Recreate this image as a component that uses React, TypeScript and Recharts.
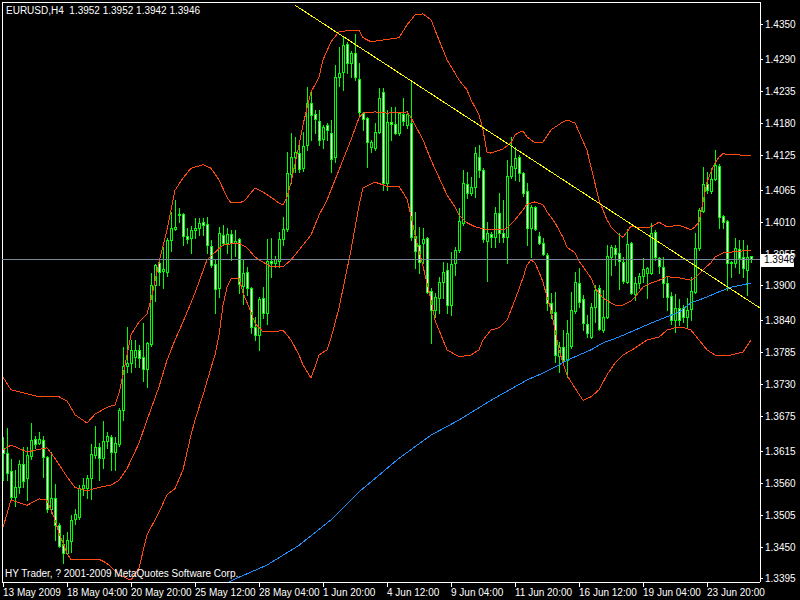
import React from "react";
import { ComposedChart, Bar, Line, XAxis, YAxis, ReferenceLine } from "recharts";

// EURUSD H4, one entry per bar (bar 0 = 13 May 2009 12:00)
const opens = [
  1.3621, 1.3612, 1.3581, 1.3536, 1.3553, 1.3593, 1.3569, 1.3607, 1.3636, 1.3629,
  1.3634, 1.3605, 1.3516, 1.3534, 1.3488, 1.3455, 1.3440, 1.3460, 1.3498, 1.3502,
  1.3552, 1.3552, 1.3569, 1.3609, 1.3622, 1.3603, 1.3633, 1.3640, 1.3614, 1.3628,
  1.3686, 1.3762, 1.3767, 1.3778, 1.3790, 1.3778, 1.3757, 1.3800, 1.3902, 1.3940,
  1.3926, 1.3924, 1.3979, 1.3998, 1.4022, 1.4024, 1.3986, 1.3983, 1.3997, 1.4000,
  1.4010, 1.4007, 1.3969, 1.3938, 1.3897, 1.3988, 1.3974, 1.3990, 1.3974, 1.3981,
  1.3900, 1.3924, 1.3897, 1.3829, 1.3815, 1.3879, 1.3853, 1.3943, 1.3940, 1.3943,
  1.3981, 1.3998, 1.4093, 1.4122, 1.4129, 1.4103, 1.4143, 1.4215, 1.4196, 1.4184,
  1.4153, 1.4177, 1.4164, 1.4122, 1.4260, 1.4269, 1.4317, 1.4284, 1.4302, 1.4257,
  1.4198, 1.4190, 1.4140, 1.4138, 1.4165, 1.4234, 1.4078, 1.4183, 1.4179, 1.4164,
  1.4196, 1.4177, 1.4181, 1.3986, 1.3971, 1.3974, 1.3983, 1.3891, 1.3859, 1.3879,
  1.3907, 1.3928, 1.3867, 1.3940, 1.3962, 1.4009, 1.4076, 1.4060, 1.4071, 1.4122,
  1.4100, 1.3978, 1.3990, 1.3984, 1.4026, 1.3991, 1.3984, 1.4090, 1.4103, 1.4122,
  1.4095, 1.4064, 1.4000, 1.4036, 1.3986, 1.3974, 1.3953, 1.3871, 1.3855, 1.3779,
  1.3795, 1.3772, 1.3797, 1.3857, 1.3905, 1.3877, 1.3834, 1.3812, 1.3864, 1.3897,
  1.3824, 1.3847, 1.3950, 1.3966, 1.3957, 1.3941, 1.3907, 1.3974, 1.3886, 1.3905,
  1.3917, 1.3922, 1.3922, 1.3993, 1.3948, 1.3933, 1.3905, 1.3883, 1.3841, 1.3862,
  1.3862, 1.3847, 1.3860, 1.3890, 1.3966, 1.4029, 1.4076, 1.4064, 1.4084, 1.4107,
  1.4021, 1.4012, 1.3941, 1.3940, 1.3964, 1.3950, 1.3928, 1.3952,
];
const highs = [
  1.3640, 1.3655, 1.3602, 1.3583, 1.3600, 1.3622, 1.3622, 1.3664, 1.3641, 1.3648,
  1.3641, 1.3607, 1.3614, 1.3559, 1.3491, 1.3471, 1.3476, 1.3505, 1.3516, 1.3557,
  1.3569, 1.3574, 1.3628, 1.3659, 1.3629, 1.3667, 1.3648, 1.3644, 1.3640, 1.3690,
  1.3795, 1.3829, 1.3807, 1.3807, 1.3798, 1.3836, 1.3803, 1.3922, 1.3938, 1.3948,
  1.3967, 1.3983, 1.4028, 1.4048, 1.4034, 1.4026, 1.4000, 1.4003, 1.4017, 1.4017,
  1.4017, 1.4019, 1.3979, 1.3945, 1.4002, 1.4005, 1.4000, 1.3997, 1.3997, 1.3983,
  1.3945, 1.3933, 1.3898, 1.3846, 1.3881, 1.3898, 1.3981, 1.3983, 1.3952, 1.3993,
  1.4019, 1.4131, 1.4164, 1.4157, 1.4147, 1.4165, 1.4243, 1.4234, 1.4203, 1.4203,
  1.4177, 1.4181, 1.4186, 1.4281, 1.4312, 1.4329, 1.4321, 1.4305, 1.4334, 1.4284,
  1.4200, 1.4191, 1.4152, 1.4181, 1.4241, 1.4241, 1.4203, 1.4209, 1.4209, 1.4200,
  1.4224, 1.4202, 1.4252, 1.4028, 1.4002, 1.4000, 1.3984, 1.3897, 1.3888, 1.3915,
  1.3941, 1.3940, 1.3959, 1.3967, 1.4034, 1.4100, 1.4097, 1.4088, 1.4140, 1.4143,
  1.4103, 1.4010, 1.3993, 1.4036, 1.4060, 1.4048, 1.4117, 1.4157, 1.4140, 1.4126,
  1.4097, 1.4078, 1.4040, 1.4038, 1.3993, 1.3983, 1.3957, 1.3888, 1.3890, 1.3803,
  1.3824, 1.3841, 1.3890, 1.3924, 1.3931, 1.3884, 1.3850, 1.3871, 1.3902, 1.3902,
  1.3893, 1.3971, 1.3971, 1.3971, 1.3991, 1.3950, 1.3998, 1.3976, 1.3915, 1.3922,
  1.3948, 1.3933, 1.4009, 1.3997, 1.3950, 1.3950, 1.3917, 1.3890, 1.3886, 1.3877,
  1.3867, 1.3879, 1.3915, 1.3991, 1.4034, 1.4105, 1.4097, 1.4103, 1.4134, 1.4110,
  1.4022, 1.4014, 1.3943, 1.3983, 1.3979, 1.3979, 1.3971, 1.3952,
];
const lows = [
  1.3566, 1.3566, 1.3531, 1.3521, 1.3543, 1.3553, 1.3531, 1.3602, 1.3621, 1.3628,
  1.3571, 1.3510, 1.3509, 1.3462, 1.3450, 1.3422, 1.3438, 1.3441, 1.3491, 1.3498,
  1.3540, 1.3534, 1.3533, 1.3603, 1.3566, 1.3586, 1.3621, 1.3583, 1.3583, 1.3625,
  1.3669, 1.3752, 1.3752, 1.3760, 1.3760, 1.3736, 1.3726, 1.3797, 1.3874, 1.3902,
  1.3897, 1.3917, 1.3960, 1.3997, 1.4010, 1.3971, 1.3974, 1.3957, 1.3983, 1.3988,
  1.3988, 1.3957, 1.3933, 1.3853, 1.3881, 1.3971, 1.3957, 1.3945, 1.3953, 1.3888,
  1.3869, 1.3884, 1.3819, 1.3807, 1.3790, 1.3845, 1.3834, 1.3915, 1.3933, 1.3933,
  1.3971, 1.3995, 1.4078, 1.4097, 1.4097, 1.4097, 1.4134, 1.4152, 1.4164, 1.4143,
  1.4138, 1.4152, 1.4097, 1.4114, 1.4245, 1.4238, 1.4267, 1.4260, 1.4255, 1.4195,
  1.4169, 1.4105, 1.4131, 1.4134, 1.4164, 1.4065, 1.4065, 1.4152, 1.4162, 1.4160,
  1.4177, 1.4172, 1.3979, 1.3931, 1.3922, 1.3940, 1.3888, 1.3803, 1.3846, 1.3853,
  1.3879, 1.3853, 1.3850, 1.3919, 1.3959, 1.4005, 1.4053, 1.4057, 1.4053, 1.4088,
  1.3976, 1.3909, 1.3967, 1.3967, 1.3976, 1.3976, 1.3940, 1.4086, 1.4083, 1.4081,
  1.4055, 1.3971, 1.3950, 1.3997, 1.3972, 1.3953, 1.3859, 1.3845, 1.3769, 1.3752,
  1.3767, 1.3743, 1.3793, 1.3853, 1.3864, 1.3824, 1.3812, 1.3810, 1.3838, 1.3824,
  1.3821, 1.3845, 1.3919, 1.3936, 1.3895, 1.3905, 1.3905, 1.3886, 1.3876, 1.3897,
  1.3907, 1.3879, 1.3921, 1.3945, 1.3922, 1.3881, 1.3859, 1.3834, 1.3821, 1.3833,
  1.3838, 1.3828, 1.3841, 1.3888, 1.3962, 1.4028, 1.4060, 1.4060, 1.4083, 1.4000,
  1.4000, 1.3893, 1.3915, 1.3933, 1.3922, 1.3915, 1.3884, 1.3942,
];
const closes = [
  1.3612, 1.3578, 1.3536, 1.3553, 1.3593, 1.3564, 1.3609, 1.3634, 1.3628, 1.3636,
  1.3605, 1.3516, 1.3534, 1.3488, 1.3452, 1.3440, 1.3462, 1.3497, 1.3507, 1.3552,
  1.3557, 1.3569, 1.3610, 1.3622, 1.3603, 1.3633, 1.3641, 1.3614, 1.3629, 1.3686,
  1.3762, 1.3767, 1.3790, 1.3790, 1.3776, 1.3757, 1.3802, 1.3902, 1.3936, 1.3924,
  1.3929, 1.3979, 1.4000, 1.4002, 1.4024, 1.3986, 1.3981, 1.3997, 1.4000, 1.4009,
  1.4005, 1.3971, 1.3936, 1.3895, 1.3991, 1.3974, 1.3990, 1.3974, 1.3978, 1.3903,
  1.3922, 1.3897, 1.3829, 1.3815, 1.3877, 1.3853, 1.3943, 1.3940, 1.3946, 1.3981,
  1.3998, 1.4095, 1.4122, 1.4131, 1.4102, 1.4141, 1.4215, 1.4195, 1.4188, 1.4152,
  1.4174, 1.4169, 1.4119, 1.4260, 1.4267, 1.4315, 1.4284, 1.4302, 1.4260, 1.4200,
  1.4188, 1.4148, 1.4148, 1.4165, 1.4224, 1.4078, 1.4183, 1.4179, 1.4164, 1.4198,
  1.4184, 1.4196, 1.3984, 1.3960, 1.3941, 1.3981, 1.3890, 1.3859, 1.3881, 1.3907,
  1.3924, 1.3867, 1.3938, 1.3962, 1.4012, 1.4078, 1.4060, 1.4071, 1.4129, 1.4100,
  1.3981, 1.3991, 1.3984, 1.4026, 1.3991, 1.3984, 1.4090, 1.4107, 1.4121, 1.4095,
  1.4060, 1.4000, 1.4036, 1.3998, 1.3974, 1.3955, 1.3871, 1.3853, 1.3781, 1.3795,
  1.3772, 1.3819, 1.3859, 1.3907, 1.3872, 1.3836, 1.3819, 1.3864, 1.3893, 1.3826,
  1.3847, 1.3952, 1.3967, 1.3955, 1.3943, 1.3909, 1.3972, 1.3888, 1.3905, 1.3917,
  1.3929, 1.3931, 1.3991, 1.3950, 1.3934, 1.3905, 1.3881, 1.3841, 1.3862, 1.3841,
  1.3847, 1.3859, 1.3891, 1.3966, 1.4031, 1.4076, 1.4065, 1.4084, 1.4109, 1.4019,
  1.4010, 1.3940, 1.3940, 1.3966, 1.3948, 1.3931, 1.3950, 1.3946,
];

// indicator lines: [bar, price]
const upperBand: [number, number][] = [
  [0, 1.3743], [2, 1.3721], [9, 1.3709], [14, 1.3709], [16, 1.3702], [18, 1.3678], [21, 1.3664],
  [23, 1.3679], [26, 1.3691], [28, 1.3695], [29, 1.3715], [30, 1.3747], [32, 1.3816], [34, 1.3838],
  [36, 1.3852], [37, 1.3876], [39, 1.3941], [41, 1.3997], [43, 1.4065], [45, 1.4086], [47, 1.4103],
  [50, 1.4109], [52, 1.4103], [54, 1.4083], [56, 1.4053], [57, 1.4043], [60, 1.4045], [61, 1.4052],
  [63, 1.4069], [65, 1.4062], [67, 1.4053], [69, 1.4043], [70, 1.4040], [71, 1.4053], [72, 1.4078],
  [74, 1.4143], [75, 1.4178], [77, 1.4234], [79, 1.4260], [80, 1.4290], [82, 1.4321], [84, 1.4338],
  [87, 1.4341], [89, 1.4341], [90, 1.4328], [92, 1.4321], [95, 1.4324], [99, 1.4328], [101, 1.4350],
  [103, 1.4367], [105, 1.4369], [107, 1.4359], [109, 1.4324], [111, 1.4290], [114, 1.4255],
  [116, 1.4238], [117, 1.4221], [119, 1.4195], [120, 1.4169], [121, 1.4131], [122, 1.4129],
  [125, 1.4136], [127, 1.4147], [128, 1.4160], [129, 1.4165], [130, 1.4167], [131, 1.4157],
  [133, 1.4147], [135, 1.4148], [137, 1.4169], [140, 1.4183], [141, 1.4186], [143, 1.4181],
  [146, 1.4134], [149, 1.4048], [151, 1.4014], [152, 1.4002], [154, 1.3988], [155, 1.3984],
  [156, 1.3993], [157, 1.4003], [160, 1.4000], [162, 1.4002], [164, 1.4010], [166, 1.4002],
  [169, 1.4005], [172, 1.3997], [173, 1.4002], [174, 1.4010], [175, 1.4045], [176, 1.4079],
  [177, 1.4097], [178, 1.4112], [179, 1.4122], [180, 1.4128], [182, 1.4126], [184, 1.4126], [187, 1.4124],
];
const midBand: [number, number][] = [
  [0, 1.3617], [2, 1.3626], [6, 1.3614], [11, 1.3621], [13, 1.3603], [16, 1.3571], [18, 1.3553],
  [21, 1.3547], [24, 1.3553], [27, 1.3557], [29, 1.3565], [31, 1.3585], [34, 1.3629], [36, 1.3669],
  [39, 1.3726], [41, 1.3772], [43, 1.3807], [45, 1.3838], [47, 1.3871], [48, 1.3888], [51, 1.3945],
  [55, 1.3971], [59, 1.3974], [61, 1.3966], [63, 1.3950], [65, 1.3941], [67, 1.3933], [70, 1.3933],
  [72, 1.3945], [74, 1.3962], [77, 1.3988], [79, 1.4022], [81, 1.4048], [84, 1.4100], [87, 1.4152],
  [89, 1.4190], [90, 1.4198], [93, 1.4200], [96, 1.4198], [101, 1.4200], [102, 1.4190], [105, 1.4152],
  [107, 1.4117], [111, 1.4057], [113, 1.4036], [114, 1.4022], [116, 1.4009], [118, 1.4002],
  [121, 1.3997], [125, 1.3997], [126, 1.4000], [128, 1.4014], [130, 1.4031], [131, 1.4041],
  [133, 1.4045], [135, 1.4040], [136, 1.4028], [138, 1.4009], [140, 1.3984], [141, 1.3967],
  [143, 1.3957], [144, 1.3943], [147, 1.3914], [148, 1.3897], [150, 1.3879], [152, 1.3871],
  [153, 1.3867], [155, 1.3867], [157, 1.3874], [158, 1.3881], [160, 1.3898], [162, 1.3905],
  [164, 1.3910], [166, 1.3916], [169, 1.3914], [172, 1.3910], [173, 1.3914], [175, 1.3928],
  [177, 1.3940], [178, 1.3950], [180, 1.3957], [183, 1.3959], [187, 1.3962],
];
const lowBand: [number, number][] = [
  [0, 1.3484], [2, 1.3531], [6, 1.3522], [9, 1.3533], [11, 1.3531], [12, 1.3514], [13, 1.3497],
  [14, 1.3474], [16, 1.3440], [17, 1.3428], [20, 1.3429], [24, 1.3429], [26, 1.3422], [29, 1.3402],
  [32, 1.3393], [34, 1.3414], [36, 1.3471], [39, 1.3510], [41, 1.3540], [43, 1.3551], [45, 1.3583],
  [47, 1.3643], [48, 1.3669], [50, 1.3712], [52, 1.3759], [53, 1.3781], [54, 1.3815], [55, 1.3867],
  [56, 1.3898], [57, 1.3912], [59, 1.3914], [60, 1.3888], [62, 1.3855], [63, 1.3836], [65, 1.3821],
  [68, 1.3821], [70, 1.3824], [72, 1.3807], [74, 1.3781], [75, 1.3764], [77, 1.3741], [79, 1.3781],
  [81, 1.3790], [82, 1.3810], [84, 1.3862], [87, 1.3962], [89, 1.4038], [90, 1.4069], [93, 1.4079],
  [96, 1.4072], [99, 1.4072], [101, 1.4050], [102, 1.4021], [103, 1.3988], [105, 1.3934],
  [107, 1.3876], [108, 1.3841], [110, 1.3807], [111, 1.3790], [114, 1.3778], [117, 1.3781],
  [119, 1.3790], [120, 1.3807], [122, 1.3824], [124, 1.3828], [126, 1.3841], [128, 1.3876],
  [130, 1.3914], [131, 1.3936], [132, 1.3945], [133, 1.3940], [134, 1.3924], [135, 1.3907],
  [136, 1.3881], [137, 1.3859], [138, 1.3824], [139, 1.3790], [140, 1.3767], [141, 1.3746],
  [143, 1.3724], [145, 1.3703], [147, 1.3709], [149, 1.3721], [151, 1.3747], [153, 1.3767],
  [155, 1.3781], [158, 1.3793], [161, 1.3807], [164, 1.3812], [166, 1.3824], [168, 1.3828],
  [170, 1.3829], [172, 1.3824], [174, 1.3807], [176, 1.3790], [178, 1.3781], [182, 1.3781],
  [185, 1.3786], [187, 1.3807],
];
const slowMa: [number, number][] = [
  [52, 1.3372], [58, 1.3395], [66, 1.3419], [74, 1.3453], [82, 1.3497], [89, 1.3545], [99, 1.3603],
  [107, 1.3643], [114, 1.3669], [122, 1.3703], [131, 1.3738], [135, 1.3750], [138, 1.3760],
  [141, 1.3772], [147, 1.3790], [150, 1.3802], [154, 1.3812], [158, 1.3824], [162, 1.3836],
  [166, 1.3847], [169, 1.3855], [172, 1.3871], [176, 1.3881], [179, 1.3890], [182, 1.3898], [187, 1.3905],
];

// hand-drawn trend line: [bar, price] at both ends
const trendStart: [number, number] = [73, 1.4384];
const trendEnd: [number, number] = [189.25, 1.3862];

const lastPrice = 1.3946;
const quote = "EURUSD,H4  1.3952 1.3952 1.3942 1.3946";
const footer = "HY Trader, ? 2001-2009 MetaQuotes Software Corp.";

const timeTicks = [0, 16, 32, 48, 64, 80, 96, 112, 128, 144, 160, 176];
const timeLabels = [
  "13 May 2009", "18 May 04:00", "20 May 20:00", "25 May 12:00", "28 May 04:00", "1 Jun 20:00",
  "4 Jun 12:00", "9 Jun 04:00", "11 Jun 20:00", "16 Jun 12:00", "19 Jun 04:00", "23 Jun 20:00",
];
const priceTicks = [
  1.3395, 1.345, 1.3505, 1.356, 1.3615, 1.3675, 1.373, 1.3785, 1.384, 1.39, 1.3955, 1.401, 1.4065,
  1.4125, 1.418, 1.4235, 1.429, 1.435,
];

const W = 800;
const H = 600;
const X_MIN = -0.25;
const X_MAX = 189.25;
const Y_MIN = 1.33898;
const Y_MAX = 1.43895;
const FONT = "'Liberation Sans', Arial, sans-serif";
const LIME = "#00ff00";
const BAND = "#ff4a12";

const rows: any[] = opens.map((open, i) => ({
  i,
  open,
  high: highs[i],
  low: lows[i],
  close: closes[i],
  range: [lows[i], highs[i]],
}));
const attach = (key: string, pts: [number, number][]) =>
  pts.forEach(([i, v]) => {
    rows[i][key] = v;
  });
attach("upper", upperBand);
attach("mid", midBand);
attach("lower", lowBand);
attach("ma", slowMa);

const Candle = (props: any) => {
  const { x, y, width, height, payload } = props;
  if (!payload) return null;
  const { open, close, high, low } = payload;
  const cx = Math.round(x + width / 2);
  const span = high - low || 1e-9;
  const py = (p: number) => Math.round(y + ((high - p) / span) * height);
  const top = py(Math.max(open, close));
  const bot = py(Math.min(open, close));
  const bull = close >= open;
  return (
    <g>
      <rect x={cx} y={Math.round(y)} width={1} height={Math.round(height) + 1} fill={LIME} />
      <rect x={cx - 1} y={top} width={3} height={bot - top + 1} fill={LIME} />
      {bot - top >= 2 && (
        <rect x={cx} y={top + 1} width={1} height={bot - top - 1} fill={bull ? "#000" : "#fff"} />
      )}
    </g>
  );
};

const TimeTick = ({ x, y, payload }: any) => (
  <text x={x} y={y + 7} fill="#fff" fontSize={10} fontFamily={FONT} textAnchor="start">
    {timeLabels[timeTicks.indexOf(payload.value)]}
  </text>
);

// the last tick is the current price: drawn last, as a white tag over the scale
const PriceTick = ({ x, y, payload }: any) => {
  const v = Number(payload.value);
  if (v === lastPrice) {
    return (
      <g>
        <rect x={x - 4} y={y - 5} width={33} height={13} fill="#fff" />
        <text x={x - 1} y={y + 4} fill="#000" fontSize={10} fontFamily={FONT}>
          {v.toFixed(4)}
        </text>
      </g>
    );
  }
  return (
    <text x={x} y={y + 3.5} fill="#fff" fontSize={10} fontFamily={FONT} textAnchor="start">
      {v.toFixed(4)}
    </text>
  );
};

export default function App() {
  return (
    <div
      className="mt"
      style={{ position: "absolute", left: 0, top: 0, width: W, height: H, background: "#000", overflow: "hidden" }}
    >
      <style>{`.mt svg path, .mt svg line, .mt svg rect { shape-rendering: crispEdges; }`}</style>
      <ComposedChart width={W} height={H} data={rows} margin={{ top: 2, right: 0, bottom: 0, left: 2 }}>
        <XAxis
          type="number"
          dataKey="i"
          domain={[X_MIN, X_MAX]}
          allowDataOverflow
          ticks={timeTicks}
          interval={0}
          height={18}
          stroke="#fff"
          tickSize={5}
          tick={<TimeTick />}
        />
        <YAxis
          orientation="right"
          type="number"
          domain={[Y_MIN, Y_MAX]}
          allowDataOverflow
          ticks={[...priceTicks, lastPrice]}
          interval={0}
          width={40}
          stroke="#fff"
          tickSize={3}
          tick={<PriceTick />}
        />
        <ReferenceLine x={X_MIN} stroke="#fff" />
        <ReferenceLine y={Y_MAX} stroke="#fff" />
        <Line dataKey="upper" stroke={BAND} strokeWidth={1} dot={false} activeDot={false} connectNulls isAnimationActive={false} />
        <Line dataKey="mid" stroke={BAND} strokeWidth={1} dot={false} activeDot={false} connectNulls isAnimationActive={false} />
        <Line dataKey="lower" stroke={BAND} strokeWidth={1} dot={false} activeDot={false} connectNulls isAnimationActive={false} />
        <Line dataKey="ma" stroke="#1e90ff" strokeWidth={1} dot={false} activeDot={false} connectNulls isAnimationActive={false} />
        <ReferenceLine y={lastPrice} stroke="#778899" />
        <Bar dataKey="range" barSize={4} shape={<Candle />} isAnimationActive={false} />
        <ReferenceLine
          segment={[
            { x: trendStart[0], y: trendStart[1] },
            { x: trendEnd[0], y: trendEnd[1] },
          ]}
          stroke="#ffff00"
        />
      </ComposedChart>
      <div
        style={{
          position: "absolute",
          left: 6,
          top: 6,
          color: "#fff",
          fontFamily: FONT,
          fontSize: 10,
          lineHeight: "10px",
          whiteSpace: "pre",
        }}
      >
        {quote}
      </div>
      <div
        style={{
          position: "absolute",
          left: 5,
          top: 569,
          color: "#fff",
          fontFamily: FONT,
          fontSize: 10,
          lineHeight: "10px",
          whiteSpace: "pre",
        }}
      >
        {footer}
      </div>
    </div>
  );
}
